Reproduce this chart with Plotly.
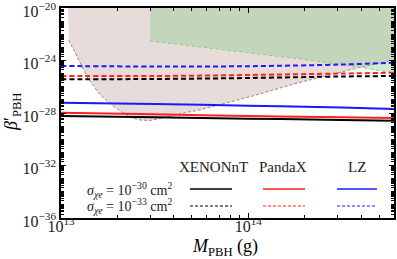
import numpy as np
import plotly.graph_objects as go

# ---- data ----
M = [1e13, 3.15e13, 1e14, 3.15e14, 6e14]
xenon_30 = [5.9e-29, 4.7e-29, 3.68e-29, 2.98e-29, 2.59e-29]
panda_30 = [1.05e-28, 8.0e-29, 5.9e-29, 4.7e-29, 4.1e-29]
lz_30 = [6.1e-28, 4.85e-28, 3.55e-28, 2.62e-28, 2.02e-28]
xenon_33 = [3.7e-26, 3.9e-26, 4.64e-26, 6.04e-26, 6.59e-26]
panda_33 = [6.59e-26, 6.59e-26, 7.85e-26, 1.02e-25, 1.17e-25]
lz_33 = [3.81e-25, 3.49e-25, 3.68e-25, 4.95e-25, 6.79e-25]

brown_M = [1.10e13, 1.22e13, 1.39e13, 1.62e13, 1.87e13, 2.15e13, 2.40e13, 2.64e13,
           2.99e13, 3.38e13, 3.83e13, 4.6e13, 5.53e13, 1.03e14, 1.83e14, 3.83e14, 6e14]
brown_beta = [3.6e-23, 1.86e-24, 4.7e-26, 2.34e-27, 4.07e-28, 1.0e-28, 4.17e-29, 2.94e-29,
              2.7e-29, 3.8e-29, 6.0e-29, 1.05e-28, 1.75e-28, 1.8e-27, 1.94e-26, 2.69e-25, 1.1e-24]
brown_left = 1.09e13

green_M = [2.99e13, 5.53e13, 1.03e14, 1.9e14, 3.83e14, 6e14]
green_beta = [3.1e-23, 1.07e-23, 3.7e-24, 1.3e-24, 3.2e-25, 1.12e-25]

x_range = [1e13, 6e14]
y_range = [1e-36, 1e-20]

y_ticks = [1e-36, 1e-32, 1e-28, 1e-24, 1e-20]
y_ticktext = ["10<sup>−36</sup>", "10<sup>−32</sup>", "10<sup>−28</sup>", "10<sup>−24</sup>", "10<sup>−20</sup>"]
x_ticks = [1e13, 1e14]
x_ticktext = ["10<sup>13</sup>", "10<sup>14</sup>"]

experiments = ["XENONnT", "PandaX", "LZ"]
colors = ["black", "#ff2020", "#1a1aff"]
row_labels = ["<i>σ</i><sub><i>χe</i></sub> = 10<sup>−30</sup> cm<sup>2</sup>",
              "<i>σ</i><sub><i>χe</i></sub> = 10<sup>−33</sup> cm<sup>2</sup>"]

FONT = "Liberation Serif"

fig = go.Figure()

# brown excluded region
fig.add_trace(go.Scatter(
    x=[brown_left] + brown_M + [x_range[1], brown_left],
    y=[y_range[1], ] + brown_beta + [y_range[1], y_range[1]],
    fill="toself", fillcolor="#e7dcda", line=dict(width=0), mode="lines",
    hoverinfo="skip", showlegend=False))
fig.add_trace(go.Scatter(
    x=brown_M, y=brown_beta, mode="lines",
    line=dict(color="#a8807a", width=1, dash="3px,2px"), showlegend=False))

# green region
fig.add_trace(go.Scatter(
    x=[green_M[0]] + green_M + [x_range[1], green_M[0]],
    y=[y_range[1]] + green_beta + [y_range[1], y_range[1]],
    fill="toself", fillcolor="rgba(150,208,150,0.44)", line=dict(width=0), mode="lines",
    hoverinfo="skip", showlegend=False))
fig.add_trace(go.Scatter(
    x=green_M, y=green_beta, mode="lines",
    line=dict(color="#80d080", width=1, dash="dot"), showlegend=False))

for vals, c in zip([xenon_33, panda_33, lz_33], colors):
    fig.add_trace(go.Scatter(x=M, y=vals, mode="lines", line_shape="spline",
                             line=dict(color=c, width=2, dash="5px,3px"), showlegend=False))
for vals, c in zip([xenon_30, panda_30, lz_30], colors):
    fig.add_trace(go.Scatter(x=M, y=vals, mode="lines", line_shape="spline",
                             line=dict(color=c, width=2), showlegend=False))

# custom legend table
W, H = 333.0, 210.0
def px_x(p):
    return (p - 61) / W
def px_y(p):
    return (218 - p) / H

head_x = [213, 283, 357]
seg = [(190, 232), (263, 305), (337, 377)]
for name, hx in zip(experiments, head_x):
    fig.add_annotation(x=px_x(hx), y=px_y(167), xref="paper", yref="paper", text=name,
                       showarrow=False, font=dict(family=FONT, size=15, color="#222"),
                       xanchor="center", yanchor="middle")
for lab, py in zip(row_labels, [190, 206]):
    fig.add_annotation(x=px_x(174), y=px_y(py), xref="paper", yref="paper", text=lab,
                       showarrow=False, font=dict(family=FONT, size=14, color="#222"),
                       xanchor="right", yanchor="middle")
for (a, b), c in zip(seg, colors):
    fig.add_shape(type="line", xref="paper", yref="paper", x0=px_x(a), x1=px_x(b),
                  y0=px_y(189), y1=px_y(189), line=dict(color=c, width=1.5))
    fig.add_shape(type="line", xref="paper", yref="paper", x0=px_x(a), x1=px_x(b),
                  y0=px_y(206), y1=px_y(206), line=dict(color=c, width=1.2, dash="3px,2px"))

# axis titles
fig.add_annotation(x=px_x(12), y=px_y(112), xref="paper", yref="paper",
                   text="<i>β</i>′<sub>PBH</sub>", textangle=-90, showarrow=False,
                   xanchor="center", yanchor="middle",
                   font=dict(family=FONT, size=18, color="black"))
fig.add_annotation(x=px_x(225), y=px_y(247), xref="paper", yref="paper",
                   text="<i>M</i><sub>PBH</sub> (g)", showarrow=False,
                   xanchor="center", yanchor="middle",
                   font=dict(family=FONT, size=18, color="black"))

y_minor = [k * 10.0 ** e for e in range(-36, -20) for k in range(1, 10) if not (k == 1 and e % 4 == 0)]
x_minor = [k * 10.0 ** e for e in (13, 14) for k in range(2, 10) if k * 10.0 ** e <= 6e14]

fig.update_xaxes(type="log", range=[np.log10(x_range[0]) - 1e-5, np.log10(x_range[1])],
                 tickvals=x_ticks, ticktext=x_ticktext, ticks="inside", ticklen=5,
                 showgrid=False, zeroline=False, showline=True, linecolor="black", linewidth=1.5,
                 mirror="ticks", tickcolor="black", automargin=False, ticklabelstandoff=-7,
                 ticklabeloverflow="allow",
                 tickfont=dict(family=FONT, size=16, color="#222"),
                 minor=dict(tickvals=x_minor, ticks="inside", ticklen=3, tickcolor="black", showgrid=False))
fig.update_yaxes(type="log", range=[np.log10(y_range[0]) - 1e-5, np.log10(y_range[1]) + 1e-5],
                 tickvals=y_ticks, ticktext=y_ticktext, ticks="inside", ticklen=5,
                 showgrid=False, zeroline=False, showline=True, linecolor="black", linewidth=1.5,
                 mirror="ticks", tickcolor="black", automargin=False,
                 ticklabeloverflow="allow", ticklabelshift=3,
                 tickfont=dict(family=FONT, size=16, color="#222"),
                 minor=dict(tickvals=y_minor, ticks="inside", ticklen=3, tickcolor="black", showgrid=False))

fig.update_layout(width=397, height=259, margin=dict(l=61, r=3, t=8, b=41),
                  plot_bgcolor="white", paper_bgcolor="white", showlegend=False)

fig.write_html("out.html", config={"displayModeBar": False},
               post_script="document.body.style.margin='0';document.body.style.overflow='hidden';")
